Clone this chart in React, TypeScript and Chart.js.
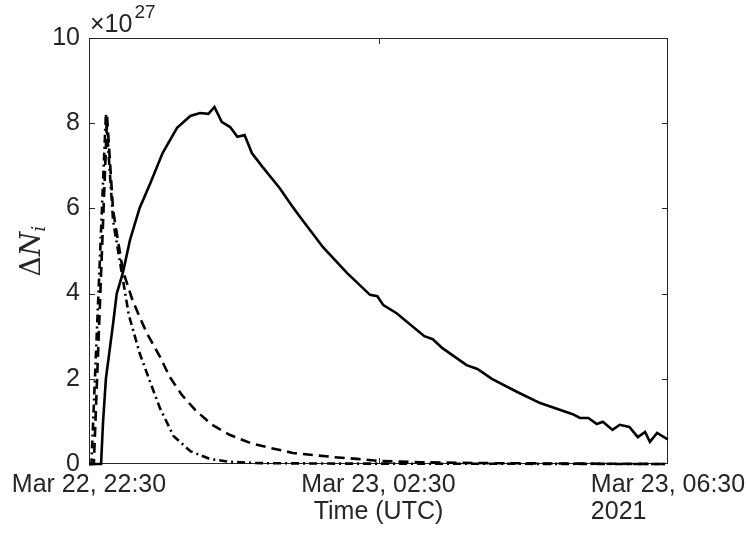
import React, { useEffect, useRef } from "react";
import { Chart, registerables } from "chart.js";

Chart.register(...registerables);

// minutes after Mar 22, 22:30 UTC
const solidT = [0, 10, 11.6, 14, 20, 23, 28, 34, 42, 51, 61, 73, 84, 92, 99, 104, 110, 117, 123, 129, 135, 144, 158, 169, 175, 194, 214, 233, 239, 244, 255, 278, 285, 293, 313, 322, 334, 355, 374, 401, 407, 414, 421, 426, 434, 440, 448, 455, 461, 465, 471, 479, 480];
const solidV = [0, 0, 0.96, 2.0, 3.3, 4.0, 4.48, 5.26, 6.01, 6.6, 7.3, 7.89, 8.17, 8.24, 8.22, 8.38, 8.03, 7.91, 7.68, 7.72, 7.3, 6.97, 6.48, 6.03, 5.8, 5.09, 4.48, 3.97, 3.94, 3.73, 3.54, 3.0, 2.93, 2.72, 2.32, 2.23, 2.0, 1.69, 1.43, 1.17, 1.08, 1.08, 0.94, 0.99, 0.8, 0.92, 0.87, 0.63, 0.75, 0.52, 0.73, 0.59, 0.58];

const dashedT = [0, 4, 15, 20, 28, 36, 42, 48, 59, 67, 77, 88, 102, 117, 134, 150, 169, 186, 204, 222, 241, 275, 330, 400, 480];
const dashedV = [0, 0, 8.15, 5.95, 4.55, 3.85, 3.45, 3.07, 2.51, 2.04, 1.62, 1.27, 0.92, 0.68, 0.49, 0.38, 0.26, 0.21, 0.16, 0.12, 0.07, 0.04, 0.02, 0.01, 0];

const dashDotT = [0, 2, 14, 20, 28, 33, 42, 51, 59, 70, 84, 100, 117, 142, 200, 480];
const dashDotV = [0, 0, 8.22, 5.7, 4.35, 3.5, 2.6, 1.9, 1.3, 0.66, 0.3, 0.12, 0.05, 0.02, 0.01, 0];

const xTickMinutes = [0, 240, 480];
const xTickLabels = ["Mar 22, 22:30", "Mar 23, 02:30", "Mar 23, 06:30"];
const yTicks = [0, 2, 4, 6, 8, 10];
const xTitle = "Time (UTC)";
const yearLabel = "2021";
const expBase = "×10";
const expPower = "27";

const INK = "#262626";
const SANS = "'Liberation Sans', Arial, sans-serif";
const SERIF = "'DejaVu Serif', serif";

const toPoints = (t: number[], v: number[]) => t.map((x, i) => ({ x, y: v[i] }));

const decorPlugin = {
  id: "matlabDecor",
  beforeDatasetsDraw(chart: any) {
    const { ctx, chartArea: a, scales } = chart;
    const xs = scales.x;
    const ys = scales.y;
    ctx.save();
    ctx.strokeStyle = INK;
    ctx.lineWidth = 1;
    ctx.strokeRect(a.left + 0.5, a.top + 0.5, a.right - a.left - 1, a.bottom - a.top - 1);
    const tl = 6;
    ctx.beginPath();
    yTicks.slice(1, -1).forEach((v) => {
      const y = Math.round(ys.getPixelForValue(v)) + 0.5;
      ctx.moveTo(a.left, y);
      ctx.lineTo(a.left + tl, y);
      ctx.moveTo(a.right, y);
      ctx.lineTo(a.right - tl, y);
    });
    xTickMinutes.slice(1, -1).forEach((m) => {
      const x = Math.round(xs.getPixelForValue(m)) + 0.5;
      ctx.moveTo(x, a.bottom);
      ctx.lineTo(x, a.bottom - tl);
      ctx.moveTo(x, a.top);
      ctx.lineTo(x, a.top + tl);
    });
    ctx.stroke();
    ctx.restore();
  },
  afterDraw(chart: any) {
    const { ctx, chartArea: a, scales } = chart;
    const xs = scales.x;
    ctx.save();
    ctx.fillStyle = INK;
    ctx.font = `25px ${SANS}`;
    ctx.textBaseline = "alphabetic";
    // x title
    ctx.textAlign = "center";
    ctx.fillText(xTitle, xs.getPixelForValue(240), 519);
    // year
    const lastW = ctx.measureText(xTickLabels[xTickLabels.length - 1]).width;
    ctx.textAlign = "left";
    ctx.fillText(yearLabel, xs.getPixelForValue(480) - lastW / 2, 519);
    // exponent
    ctx.fillText(expBase, a.left + 1, 32);
    const bw = ctx.measureText(expBase).width;
    ctx.font = `19px ${SANS}`;
    ctx.fillText(expPower, a.left + 1 + bw + 2, 18);
    // y label: ΔN_i rotated
    ctx.translate(40, (a.top + a.bottom) / 2);
    ctx.rotate(-Math.PI / 2);
    ctx.font = `28px ${SERIF}`;
    const dW = ctx.measureText("Δ").width;
    ctx.font = `italic 28px ${SERIF}`;
    const nW = ctx.measureText("N").width;
    ctx.font = `italic 19px ${SERIF}`;
    const iW = ctx.measureText("i").width;
    const total = dW + nW + iW;
    let x0 = -total / 2;
    ctx.textAlign = "left";
    ctx.font = `28px ${SERIF}`;
    ctx.fillText("Δ", x0, 0);
    x0 += dW;
    ctx.font = `italic 28px ${SERIF}`;
    ctx.fillText("N", x0, 0);
    x0 += nW;
    ctx.font = `italic 19px ${SERIF}`;
    ctx.fillText("i", x0, 5);
    ctx.restore();
  },
};

export default function App() {
  const ref = useRef<HTMLCanvasElement | null>(null);
  useEffect(() => {
    if (!ref.current) return;
    const common = {
      borderColor: "#000000",
      borderWidth: 2.6,
      pointRadius: 0,
      tension: 0,
      fill: false,
      clip: false as any,
    };
    const chart = new Chart(ref.current, {
      type: "line",
      data: {
        datasets: [
          { ...common, label: "solid", data: toPoints(solidT, solidV) },
          { ...common, label: "dashed", data: toPoints(dashedT, dashedV), borderDash: [10, 6] },
          { ...common, label: "dashdot", data: toPoints(dashDotT, dashDotV), borderDash: [8, 4, 2, 4] },
        ],
      },
      options: {
        responsive: false,
        animation: false,
        parsing: true,
        layout: { padding: { top: 38, right: 78, left: 0, bottom: 0 } },
        plugins: { legend: { display: false }, tooltip: { enabled: false } },
        scales: {
          x: {
            type: "linear",
            min: 0,
            max: 480,
            grid: { display: false, drawTicks: false },
            border: { display: false },
            ticks: {
              autoSkip: false,
              maxRotation: 0,
              minRotation: 0,
              padding: 6,
              color: INK,
              font: { family: SANS, size: 25 },
              callback: (value: any) => {
                const i = xTickMinutes.indexOf(Number(value));
                return i >= 0 ? xTickLabels[i] : "";
              },
            },
            afterBuildTicks: (scale: any) => {
              scale.ticks = xTickMinutes.map((v) => ({ value: v }));
            },
            afterFit: (scale: any) => {
              scale.height = 78;
              scale.paddingLeft = 0;
              scale.paddingRight = 0;
            },
          },
          y: {
            min: 0,
            max: 10,
            grid: { display: false, drawTicks: false },
            border: { display: false },
            ticks: {
              stepSize: 2,
              padding: 9,
              color: INK,
              font: { family: SANS, size: 25 },
            },
            afterFit: (scale: any) => {
              scale.width = 89;
              scale.paddingTop = 0;
              scale.paddingBottom = 0;
            },
          },
        },
      },
      plugins: [decorPlugin],
    });
    return () => chart.destroy();
  }, []);
  return (
    <div style={{ position: "absolute", left: 0, top: 0, width: 746, height: 542, background: "#fff" }}>
      <canvas ref={ref} width={746} height={542} style={{ width: 746, height: 542 }} />
    </div>
  );
}
